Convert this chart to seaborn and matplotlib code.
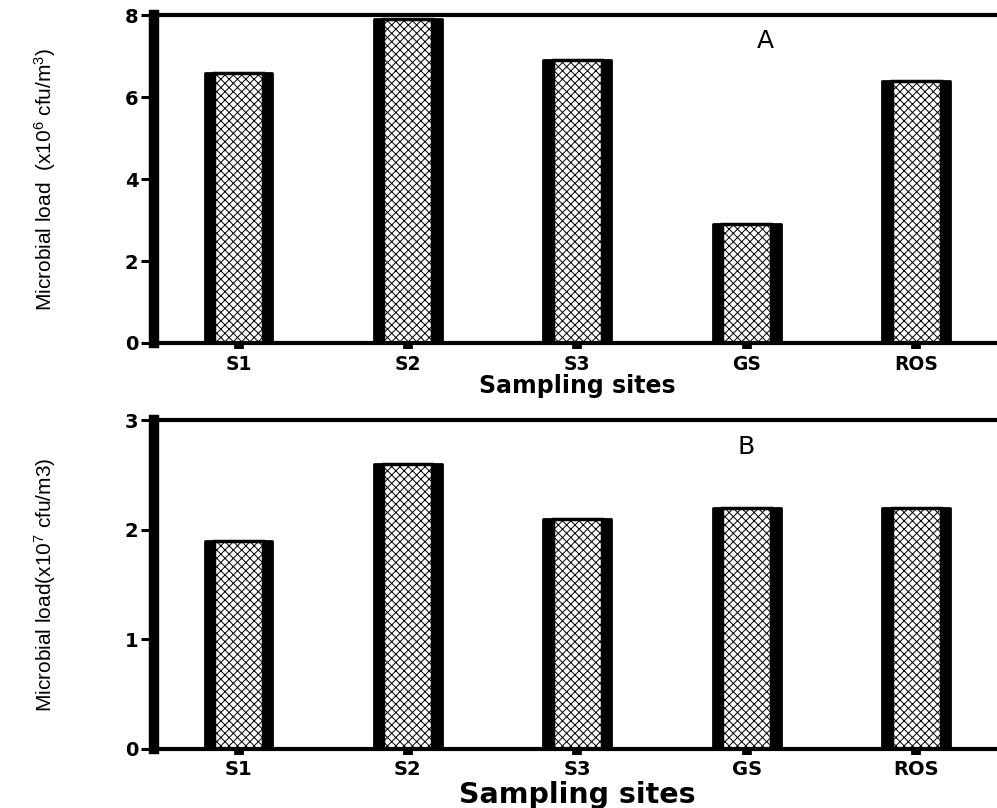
import matplotlib
matplotlib.use("Agg")
import matplotlib.pyplot as plt
from matplotlib import font_manager
import numpy as np
import pandas as pd
import seaborn as sns

# ---- data ----
sites = ["S1", "S2", "S3", "GS", "ROS"]
load_a = [6.6, 7.9, 6.9, 2.9, 6.4]   # x10^6 cfu/m^3
load_b = [1.9, 2.6, 2.1, 2.2, 2.2]   # x10^7 cfu/m3
yticks_a = [0, 2, 4, 6, 8]
yticks_b = [0, 1, 2, 3]
ylabel_a = r"Microbial load  (x10$^{6}$ cfu/m$^{3}$)"
ylabel_b = r"Microbial load(x10$^{7}$ cfu/m3)"
xlabel = "Sampling sites"

sns.set_style("ticks")
names = {f.name for f in font_manager.fontManager.ttflist}
narrow = "Liberation Sans Narrow" if "Liberation Sans Narrow" in names else "Liberation Sans"
plt.rcParams["font.family"] = ["DejaVu Sans"]
plt.rcParams["hatch.linewidth"] = 0.7
plt.rcParams["mathtext.default"] = "regular"
for k in ["text.color", "axes.edgecolor", "axes.labelcolor", "xtick.color", "ytick.color"]:
    plt.rcParams[k] = "black"

fig = plt.figure(figsize=(9.97, 8.08), dpi=100)
axA = fig.add_axes([0.1543, 0.5755, 0.8495, 0.4056])
axB = fig.add_axes([0.1543, 0.0734, 0.8495, 0.4062])


def panel(ax, vals, yt, ylab, tick_size, xlab_size, xlab_y, letter, lpos):
    df = pd.DataFrame({"site": sites, "load": vals})
    sns.barplot(data=df, x="site", y="load", ax=ax, width=0.4, color="black",
                edgecolor="black", linewidth=2.0, saturation=1, joinstyle="round")
    sns.barplot(data=df, x="site", y="load", ax=ax, width=0.29, color="white",
                edgecolor="black", linewidth=2.5, saturation=1, hatch="xxxx")
    ax.set_xlim(-0.5, 4.5)
    ax.set_ylim(yt[0], yt[-1])
    ax.set_yticks(yt)
    ax.set_yticklabels([str(v) for v in yt], fontsize=14, fontweight="bold")
    ax.set_xticks(range(len(sites)))
    ax.set_xticklabels(sites, fontsize=tick_size, fontweight="bold")
    ax.tick_params(axis="y", length=9.5, width=2.2, pad=1.5, direction="out")
    ax.tick_params(axis="x", length=4.3, width=7, pad=4, direction="out")
    ax.spines["left"].set_linewidth(7.5)
    ax.spines["top"].set_linewidth(3)
    ax.spines["bottom"].set_linewidth(3)
    ax.spines["right"].set_visible(False)
    ax.set_ylabel(ylab, fontsize=15, family=narrow)
    lab = ax.yaxis.label
    lab.set_rotation_mode("default")
    lab.set_ha("center")
    lab.set_va("center")
    ax.yaxis.set_label_coords((45 - 154) / 847, 0.5)
    ax.set_xlabel(xlabel, fontsize=xlab_size, fontweight="bold")
    ax.xaxis.label.set_va("baseline")
    ax.xaxis.set_label_coords(0.5, xlab_y)
    ax.text(lpos[0], lpos[1], letter, transform=ax.transAxes, fontsize=18,
            ha="center", va="center")


panel(axA, load_a, yticks_a, ylabel_a, 13.5, 17, -0.1526, "A", (0.7226, 0.920))
panel(axB, load_b, yticks_b, ylabel_b, 14, 20.5, -0.1655, "B", (0.699, 0.918))

fig.savefig("out.png", dpi=100)
